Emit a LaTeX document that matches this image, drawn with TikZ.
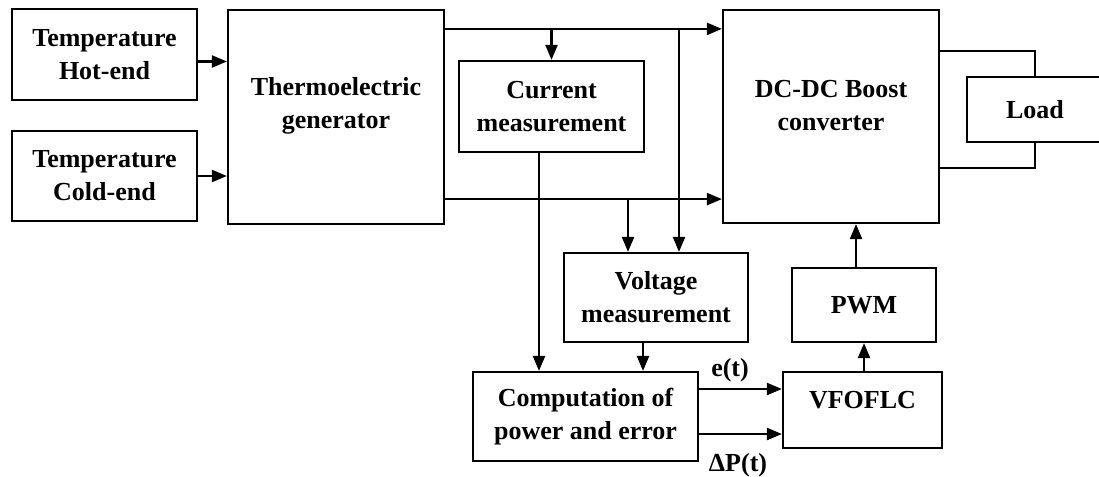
\documentclass[tikz,border=0pt]{standalone}
\usepackage{fontspec}
\setmainfont{Liberation Serif}
\usetikzlibrary{arrows.meta,positioning,calc}

\begin{document}
\begin{tikzpicture}[x=1pt, y=-1pt,
    block/.style={draw, line width=2.2pt, align=center, inner sep=0pt,
        font=\bfseries\fontsize{26}{33}\selectfont},
    txt/.style={align=center, font=\bfseries\fontsize{26}{33}\selectfont},
    wire/.style={line width=2.2pt},
    arr/.style={wire, -{Triangle[length=15pt, width=12pt]}}
]
\useasboundingbox (0,0) rectangle (1099,476);

% blocks
\node[block, minimum width=185pt, minimum height=91pt] (hot) at (104.5,54.5) {Temperature\\Hot-end};
\node[block, minimum width=185pt, minimum height=90pt] (cold) at (104.5,176) {Temperature\\Cold-end};
\node[block, minimum width=216pt, minimum height=214pt] (teg) at (336,117) {};
\node[txt] at ([yshift=11pt]teg.center) {Thermoelectric\\generator};
\node[block, minimum width=185pt, minimum height=91pt] (current) at (551.5,106.5) {Current\\measurement};
\node[block, minimum width=216pt, minimum height=213pt] (dc) at (831,116.5) {};
\node[txt] at ([yshift=11pt]dc.center) {DC-DC Boost\\converter};
\node[block, minimum width=136pt, minimum height=65pt] (load) at (1035,109.5) {Load};
\node[block, minimum width=184pt, minimum height=89pt] (voltage) at (656,297.5) {Voltage\\measurement};
\node[block, minimum width=225pt, minimum height=89pt] (comp) at (585.5,416.5) {Computation of\\power and error};
\node[block, minimum width=144pt, minimum height=74pt] (pwm) at (864,305) {PWM};
\node[block, minimum width=159pt, minimum height=76pt] (vfoflc) at (862.5,410) {};
\node[txt] at ([yshift=10pt]vfoflc.center) {VFOFLC};

% inputs
\draw[arr] ([yshift=-7pt]hot.east) -- ([yshift=-7pt]hot.east -| teg.west);
\draw[arr] (cold.east) -- (cold.east -| teg.west);

% output buses of the generator
\coordinate (top) at ([yshift=-20pt]teg.north east);
\coordinate (bot) at ([yshift=26pt]teg.south east);
\draw[arr] (top) -- (top -| dc.west);
\draw[arr] (bot) -- (bot -| dc.west);
\draw[arr] (current.north |- top) -- (current.north);
\draw[arr] ([xshift=23pt]voltage.north |- top) -- ([xshift=23pt]voltage.north);
\draw[arr] ([xshift=-28pt]voltage.north |- bot) -- ([xshift=-28pt]voltage.north);

% measurements to computation
\draw[arr] ([xshift=-12.5pt]current.south) -- ([xshift=-12.5pt]current.south |- comp.north);
\draw[arr] ([xshift=-13pt]voltage.south) -- ([xshift=-13pt]voltage.south |- comp.north);

% controller
\coordinate (e) at ([yshift=27.5pt]comp.east);
\coordinate (dp) at ([yshift=-17.5pt]comp.east);
\draw[arr] (e) -- (e -| vfoflc.west);
\draw[arr] (dp) -- (dp -| vfoflc.west);
\node[txt] (elbl) at (730,370) {e(t)};
\node[txt] (dplbl) at (738,465) {ΔP(t)};
\draw[arr] ([xshift=1.5pt]vfoflc.north) -- ([xshift=1.5pt]vfoflc.north |- pwm.south);
\draw[arr] ([xshift=-8pt]pwm.north) -- ([xshift=-8pt]pwm.north |- dc.south);

% load
\draw[wire] ([yshift=-42pt]dc.north east) -| (load.north);
\draw[wire] ([yshift=56pt]dc.south east) -| (load.south);
\end{tikzpicture}
\end{document}
